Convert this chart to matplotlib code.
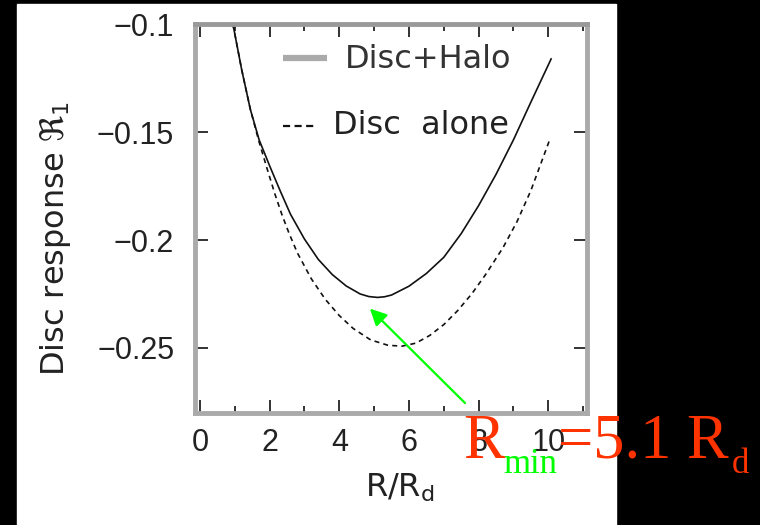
import matplotlib
matplotlib.use("Agg")
import matplotlib.pyplot as plt
from matplotlib.patches import Rectangle
from matplotlib.ticker import MultipleLocator

# Disc+Halo (solid) and Disc alone (dashed)
r_halo = [0.95, 1.2, 1.45, 1.7, 2.0, 2.3, 2.6, 3.0, 3.4, 3.8, 4.2, 4.6, 4.85,
          5.1, 5.3, 5.5, 6.0, 6.5, 7.0, 7.5, 8.0, 8.5, 9.0, 9.5, 10.08]
resp_halo = [-0.1000, -0.1210, -0.1395, -0.1535, -0.1655, -0.1770, -0.1880,
             -0.1995, -0.2090, -0.2160, -0.2213, -0.2250, -0.2262, -0.2266,
             -0.2263, -0.2255, -0.2214, -0.2155, -0.2080, -0.1970, -0.1840,
             -0.1695, -0.1535, -0.1360, -0.1160]

r_disc = [0.95, 1.2, 1.45, 1.7, 1.95, 2.15, 2.35, 2.55, 2.8, 3.2, 3.6, 4.0,
          4.4, 4.9, 5.4, 5.8, 6.2, 6.6, 7.0, 7.4, 7.8, 8.2, 8.7, 9.1, 9.5, 10.05]
resp_disc = [-0.1000, -0.1210, -0.1395, -0.1545, -0.1680, -0.1785, -0.1880,
             -0.1965, -0.2060, -0.2180, -0.2275, -0.2350, -0.2410, -0.2463,
             -0.2488, -0.2492, -0.2478, -0.2442, -0.2392, -0.2327, -0.2250,
             -0.2160, -0.2035, -0.1915, -0.1770, -0.1530]

labels = ["Disc+Halo", "Disc  alone"]
yticks = [-0.25, -0.2, -0.15, -0.1]
ytick_labels = ["\u22120.25", "\u22120.2", "\u22120.15", "\u22120.1"]
arrow_tip = (4.88, -0.2318)

W, H = 760, 525
fig = plt.figure(figsize=(W / 100, H / 100), dpi=100, facecolor="black")
fig.patches.append(Rectangle((17 / W, 0), (616 - 17) / W, (H - 4) / H,
                             transform=fig.transFigure, color="white", zorder=-1))

ax = fig.add_axes([195 / W, 1 - 413 / H, 392 / W, 389 / H])
ax.plot(r_halo, resp_halo, color="#111111", lw=1.2)
ax.plot(r_disc, resp_disc, color="#111111", lw=1.2, dashes=(3, 2.5))
ax.set_xlim(-0.14, 11.11)
ax.set_ylim(-0.2802, -0.0998)

for s in ax.spines.values():
    s.set_color("#aaaaaa")
    s.set_linewidth(3.5)
ax.spines["top"].set_color("#999999")

ax.xaxis.set_major_locator(MultipleLocator(2))
ax.xaxis.set_minor_locator(MultipleLocator(1))
ax.set_yticks(yticks)
ax.set_yticklabels(ytick_labels)
ax.tick_params(which="both", direction="in", top=True, right=True,
               color="#111111", width=1.2)
ax.tick_params(which="major", length=9.5)
ax.tick_params(which="minor", length=5)
ax.tick_params(axis="y", pad=15)
ax.tick_params(axis="x", pad=11)
for t in ax.get_xticklabels() + ax.get_yticklabels():
    t.set_fontfamily("Liberation Sans")
    t.set_fontsize(22)
    t.set_color("#222222")

ax.set_ylabel(r"Disc response $\Re_1$", fontsize=23, color="#222222")
ax.yaxis.set_label_coords(-0.31, 0.447)
ax.set_xlabel(r"R/R$_{\rm d}$", fontsize=23, color="#222222")
ax.xaxis.set_label_coords(0.523, -0.15)

# hand-drawn legend
ax.plot([0.2245, 0.337], [0.9126, 0.9126], transform=ax.transAxes,
        color="#aaaaaa", lw=4.5, solid_capstyle="butt", clip_on=False)
ax.text(0.3827, 0.886, labels[0], transform=ax.transAxes, fontsize=23,
        color="#333333", va="baseline")
ax.plot([0.2245, 0.306], [0.7378, 0.7378], transform=ax.transAxes,
        color="#111111", lw=1.6, dashes=(3.2, 2.0), clip_on=False)
ax.text(0.352, 0.717, labels[1], transform=ax.transAxes, fontsize=23,
        color="#222222", va="baseline")

# annotation
ax.annotate("", xy=arrow_tip, xytext=(465, H - 403), textcoords="figure pixels",
            arrowprops=dict(arrowstyle="-|>,head_length=1.0,head_width=0.5",
                            color="#00ff00", lw=1.6, shrinkA=0, shrinkB=0))
red = "#ff3300"
serif = "Liberation Serif"
fig.text(463 / W, 1 - 458 / H, "R", color=red, fontsize=45, family=serif,
         va="baseline")
fig.text(503 / W, 1 - 473 / H, "min", color="#00ff00", fontsize=25,
         family=serif, va="baseline")
fig.text(558 / W, 1 - 458 / H, "=5.1 R", color=red, fontsize=45, family=serif,
         va="baseline")
fig.text(732 / W, 1 - 473 / H, "d", color=red, fontsize=25, family=serif,
         va="baseline")

fig.savefig("out.png", dpi=100, facecolor=fig.get_facecolor())
